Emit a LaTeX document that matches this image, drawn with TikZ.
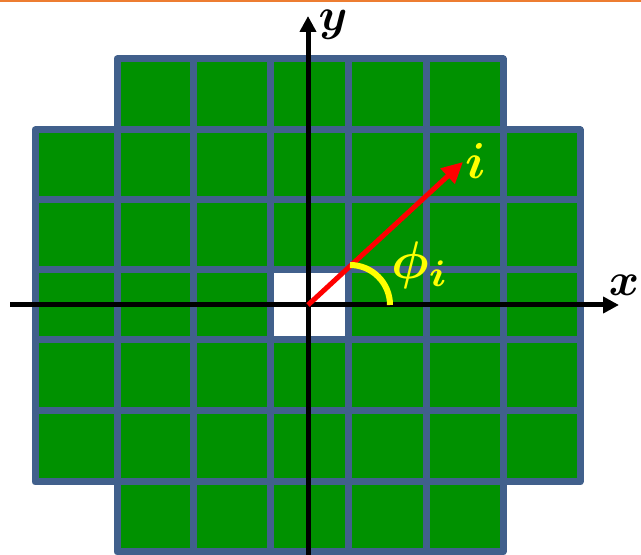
\documentclass[tikz,border=0pt]{standalone}
\usepackage{amsmath, bm}
\usepackage{xcolor}
\usepackage{tikz}
\usetikzlibrary{arrows.meta}
\definecolor{cellgreen}{RGB}{0,145,0}
\definecolor{gridblue}{RGB}{65,96,140}
\definecolor{topline}{RGB}{237,125,49}
\definecolor{angleyellow}{RGB}{255,255,0}
\tikzstyle{cell} = [fill=cellgreen, draw=gridblue, line width=7pt, line join=round]
\tikzstyle{hole} = [cell, fill=white]
\tikzstyle{axis} = [line width=5pt, -{Triangle[length=16pt,width=16pt]}]
\tikzstyle{ray} = [red, line width=5pt, -{Triangle[length=21pt,width=20pt]}]
\tikzstyle{anglearc} = [angleyellow, line width=6pt]
\tikzstyle{lab} = [scale=4.6, inner sep=0pt]

\begin{document}
\begin{tikzpicture}[x=1pt, y=1pt]
  \useasboundingbox (0,0) rectangle (641,555);
  \draw[topline, line width=2pt] (0,554) -- (641,554);

  % cells, row by row from the top, corners left out
  \foreach \ya/\yb [count=\r] in {496/425, 425/355, 355/285, 285/215, 215/144, 144/73, 73/3} {
    \foreach \xa/\xb [count=\c] in {35/117, 117/193, 193/270, 270/348, 348/426, 426/503, 503/580} {
      \pgfmathtruncatemacro{\corner}{((\r==1) || (\r==7)) && ((\c==1) || (\c==7))}
      \ifnum\corner=0
        \draw[cell] (\xa,\ya) rectangle (\xb,\yb);
      \fi
    }
  }
  \draw[hole] (270,285) rectangle (348,215);

  \coordinate (O) at (308,250);
  \coordinate (xstart) at (10,250);
  \coordinate (xend) at (619,250);
  \coordinate (ystart) at (308,0);
  \coordinate (yend) at (308,539);
  \coordinate (itip) at (463,393);

  \draw[axis] (xstart) -- (xend);
  \draw[axis] (ystart) -- (yend);
  \draw[ray] (O) -- (itip);
  \draw[anglearc] (350,290) arc[start angle=90, end angle=0, radius=40];

  \node (xlab) [lab] at (624,270) {$\bm{x}$};
  \node (ylab) [lab] at (333,530) {$\bm{y}$};
  \node (ilab) [lab, scale=1.1, angleyellow] at (476,394) {$\bm{i}$};
  \node (philab) [lab, scale=1.15, angleyellow] at (420,290) {$\bm{\phi_i}$};
\end{tikzpicture}
\end{document}
